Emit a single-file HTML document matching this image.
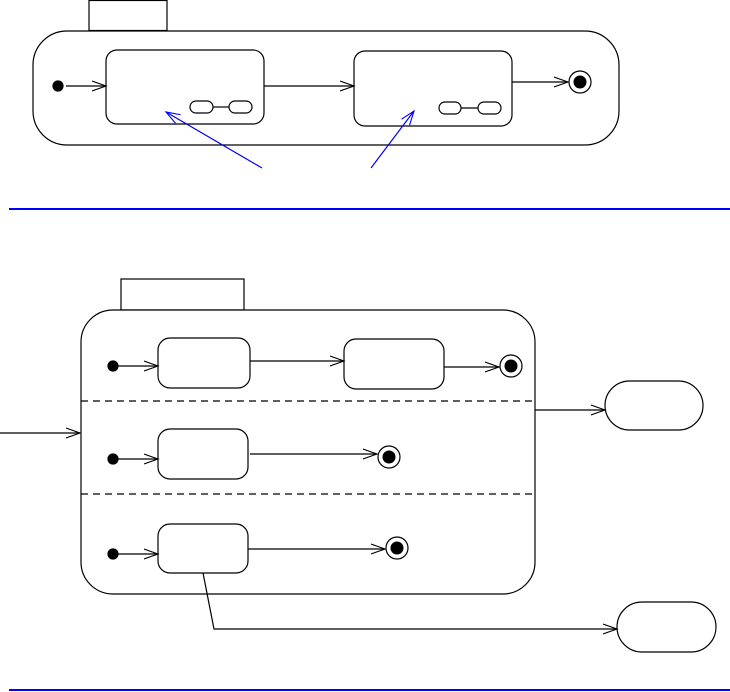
<!DOCTYPE html>
<html><head><style>html,body{margin:0;padding:0;background:#fff}svg{display:block}</style></head><body>
<svg width="730" height="692" viewBox="0 0 730 692" xmlns="http://www.w3.org/2000/svg" fill="none" stroke="#000" stroke-width="1.2">
<defs>
<marker id="a" markerWidth="16" markerHeight="12" refX="14" refY="6" orient="auto" markerUnits="userSpaceOnUse"><path d="M0,1 L14,6 L0,11" fill="none" stroke="#000" stroke-width="1.1"/></marker>
<marker id="b" markerWidth="16" markerHeight="12" refX="14" refY="6" orient="auto" markerUnits="userSpaceOnUse"><path d="M0,1 L14,6 L0,11" fill="none" stroke="#00f" stroke-width="1.1"/></marker>
</defs>
<!-- top -->
<rect x="89" y="0.5" width="78" height="30"/>
<rect x="33" y="31" width="586" height="114" rx="34" fill="#fff"/>
<circle cx="58" cy="86" r="5" fill="#000"/>
<line x1="66" y1="86" x2="106" y2="86" marker-end="url(#a)"/>
<rect x="106" y="50" width="158" height="74" rx="11"/>
<rect x="190" y="101" width="23" height="12" rx="6"/>
<rect x="229" y="101" width="23" height="12" rx="6"/>
<line x1="213" y1="107" x2="229" y2="107"/>
<line x1="264" y1="86" x2="354" y2="86" marker-end="url(#a)"/>
<rect x="354" y="51" width="158" height="75" rx="11"/>
<rect x="439" y="102" width="22" height="12" rx="6"/>
<rect x="478" y="102" width="23" height="12" rx="6"/>
<line x1="461" y1="108" x2="478" y2="108"/>
<line x1="512" y1="82" x2="568" y2="82" marker-end="url(#a)"/>
<circle cx="580" cy="82" r="11"/><circle cx="580" cy="82" r="6.5" fill="#000" stroke="none"/>
<line x1="262" y1="168" x2="166" y2="112" stroke="#00f" marker-end="url(#b)"/>
<line x1="371" y1="168" x2="414" y2="111" stroke="#00f" marker-end="url(#b)"/>
<line x1="9" y1="209" x2="730" y2="209" stroke="#00f" stroke-width="2"/>
<!-- bottom -->
<rect x="121" y="279" width="123" height="31"/>
<rect x="81" y="310" width="454" height="284" rx="32" fill="#fff"/>
<line x1="81" y1="401" x2="535" y2="401" stroke-dasharray="7,5"/>
<line x1="81" y1="494" x2="535" y2="494" stroke-dasharray="7,5"/>
<circle cx="113" cy="366" r="5" fill="#000"/>
<line x1="118" y1="366" x2="158" y2="366" marker-end="url(#a)"/>
<rect x="158" y="338" width="92" height="50" rx="12"/>
<line x1="250" y1="361" x2="344" y2="361" marker-end="url(#a)"/>
<rect x="344" y="339" width="100" height="50" rx="12"/>
<line x1="444" y1="367" x2="499" y2="367" marker-end="url(#a)"/>
<circle cx="511" cy="366" r="11"/><circle cx="511" cy="366" r="6.5" fill="#000" stroke="none"/>
<circle cx="113" cy="459" r="5" fill="#000"/>
<line x1="118" y1="459" x2="158" y2="459" marker-end="url(#a)"/>
<rect x="158" y="429" width="90" height="50" rx="12"/>
<line x1="250" y1="454" x2="377" y2="454" marker-end="url(#a)"/>
<circle cx="389" cy="457" r="11"/><circle cx="389" cy="457" r="6.5" fill="#000" stroke="none"/>
<circle cx="113" cy="554" r="5" fill="#000"/>
<line x1="118" y1="554" x2="158" y2="554" marker-end="url(#a)"/>
<rect x="158" y="524" width="90" height="49" rx="12"/>
<line x1="248" y1="549" x2="385" y2="549" marker-end="url(#a)"/>
<circle cx="397" cy="548" r="11"/><circle cx="397" cy="548" r="6.5" fill="#000" stroke="none"/>
<line x1="0" y1="433" x2="80" y2="433" marker-end="url(#a)"/>
<line x1="535" y1="410" x2="605" y2="410" marker-end="url(#a)"/>
<rect x="605" y="381" width="98" height="49" rx="24.5"/>
<polyline points="203,573 214,629 617,629" marker-end="url(#a)"/>
<rect x="617" y="602" width="99" height="50" rx="25"/>
<line x1="9" y1="690" x2="730" y2="690" stroke="#00f" stroke-width="2"/>
</svg>
</body></html>
